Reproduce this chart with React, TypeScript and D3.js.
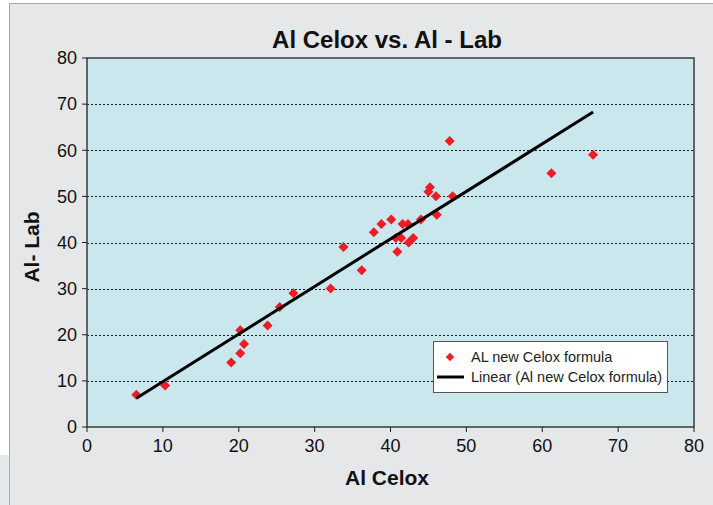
import React from 'react';
import * as d3 from 'd3';

// AL new Celox formula: Al Celox (x) vs Al - Lab (y)
const celox = [
  6.5, 10.3, 19.0, 20.2, 20.7, 20.2, 23.8, 25.4, 27.2, 32.1,
  33.8, 36.2, 37.8, 38.8, 40.1, 40.7, 41.4, 41.6, 42.3, 42.4,
  43.0, 40.9, 44.0, 45.2, 45.0, 46.0, 46.1, 48.2, 47.8, 61.2, 66.7,
];
const lab = [
  7, 9, 14, 16, 18, 21, 22, 26, 29, 30,
  39, 34, 42.2, 44, 45, 41, 41, 44, 44, 40,
  41, 38, 45, 52, 51, 50, 46, 50, 62, 55, 59,
];
const ticks = [0, 10, 20, 30, 40, 50, 60, 70, 80];
const gridTicks = [10, 20, 30, 40, 50, 60, 70];
const legendLabels = ['AL new Celox formula', 'Linear (Al new Celox formula)'];

const W = 713;
const H = 505;
const font = 'Liberation Sans, Arial, Helvetica, sans-serif';

const App: React.FC = () => {
  const x = d3.scaleLinear().domain([0, 80]).range([87, 694]);
  const y = d3.scaleLinear().domain([0, 80]).range([427, 58]);

  // least squares trend line
  const points = celox.map((c, i) => [c, lab[i]] as [number, number]);
  const mx = d3.mean(celox)!;
  const my = d3.mean(lab)!;
  const sxy = d3.sum(points, (p) => (p[0] - mx) * (p[1] - my));
  const sxx = d3.sum(points, (p) => (p[0] - mx) ** 2);
  const slope = sxy / sxx;
  const icpt = my - slope * mx;
  const [x0, x1] = d3.extent(celox) as [number, number];
  const trend = d3.line<number>().x((d) => x(d)).y((d) => y(slope * d + icpt));

  const diamond = d3.symbol().type(d3.symbolSquare).size(50)()!;

  return (
    <svg
      width={W}
      height={H}
      style={{ position: 'absolute', left: 0, top: 0, fontFamily: font }}
    >
      <rect x={0} y={0} width={W} height={H} fill="#ffffff" />
      <rect x={0} y={455} width={9} height={50} fill="#e6e9ec" />
      <rect x={9.5} y={3.5} width={W} height={H} fill="#e6e7e9" stroke="#a8a8a8" />

      <text x={387} y={48} textAnchor="middle" fontSize={24} fontWeight="bold" fill="#111">
        Al Celox vs. Al - Lab
      </text>

      {/* plot area */}
      <rect x={x(0)} y={y(80)} width={x(80) - x(0)} height={y(0) - y(80)} fill="#c9e7ed" />

      {gridTicks.map((t) => (
        <line
          key={t}
          x1={x(0)}
          x2={x(80)}
          y1={Math.round(y(t)) + 0.5}
          y2={Math.round(y(t)) + 0.5}
          stroke="#1a1a1a"
          strokeDasharray="2,2"
        />
      ))}

      <rect
        x={x(0)}
        y={y(80)}
        width={x(80) - x(0)}
        height={y(0) - y(80)}
        fill="none"
        stroke="#3a3a3a"
        strokeWidth={1.5}
      />

      {/* y axis */}
      {ticks.map((t) => (
        <g key={'y' + t}>
          <line x1={x(0) - 5} x2={x(0)} y1={y(t)} y2={y(t)} stroke="#222" />
          <text x={77} y={y(t)} dy="0.35em" textAnchor="end" fontSize={18} fill="#111">
            {t}
          </text>
        </g>
      ))}

      {/* x axis */}
      {ticks.map((t) => (
        <g key={'x' + t}>
          <line x1={x(t)} x2={x(t)} y1={y(0)} y2={y(0) + 5} stroke="#222" />
          <text x={x(t)} y={452} textAnchor="middle" fontSize={18} fill="#111">
            {t}
          </text>
        </g>
      ))}

      <text x={387} y={485} textAnchor="middle" fontSize={21} fontWeight="bold" fill="#111">
        Al Celox
      </text>
      <text
        transform="translate(39,247) rotate(-90)"
        textAnchor="middle"
        fontSize={21}
        fontWeight="bold"
        fill="#111"
      >
        Al- Lab
      </text>

      {/* data */}
      {points.map((p, i) => (
        <path
          key={i}
          d={diamond}
          transform={`translate(${x(p[0])},${y(p[1])}) rotate(45)`}
          fill="#ee1c25"
        />
      ))}

      <path d={trend([x0, x1])!} stroke="#000" strokeWidth={3} fill="none" />

      {/* legend */}
      <rect x={433.5} y={341.5} width={234} height={51} fill="#fff" stroke="#555" />
      <path d={diamond} transform="translate(450,357) rotate(45) scale(0.85)" fill="#ee1c25" />
      <text x={471} y={362} fontSize={14.5} fill="#222">
        {legendLabels[0]}
      </text>
      <line x1={437} x2={464} y1={377} y2={377} stroke="#000" strokeWidth={3} />
      <text x={471} y={382} fontSize={14.5} fill="#222">
        {legendLabels[1]}
      </text>
    </svg>
  );
};

export default App;
